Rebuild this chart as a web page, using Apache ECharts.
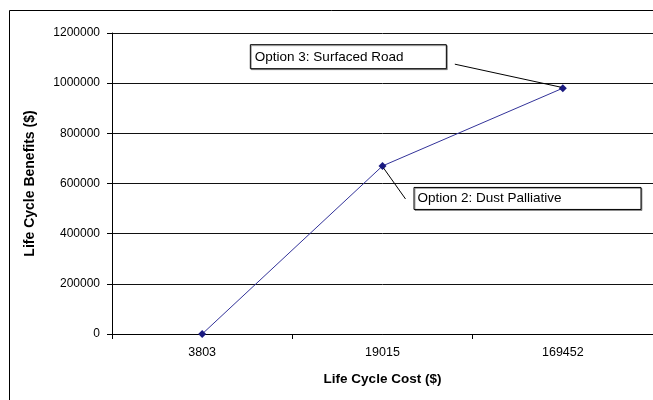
<!DOCTYPE html>
<html><head><meta charset="utf-8">
<script src="https://cdn.jsdelivr.net/npm/echarts@6/dist/echarts.min.js"></script>
<style>html,body{margin:0;padding:0;background:#fff}#c{width:653px;height:400px}</style>
</head><body><div id="c"></div>
<script>
const categories = ['3803', '19015', '169452'];
const benefits = [0, 670000, 980000];
const yTicks = [0, 200000, 400000, 600000, 800000, 1000000, 1200000];
const annotations = [
  { index: 2, text: 'Option 3: Surfaced Road' },
  { index: 1, text: 'Option 2: Dust Palliative' }
];
const font = '"Liberation Sans", Arial, sans-serif';
const chart = echarts.init(document.getElementById('c'), null, { renderer: 'canvas' });
chart.setOption({
  animation: false,
  backgroundColor: '#fff',
  grid: { left: 112, top: 33, width: 543, height: 301, containLabel: false },
  xAxis: {
    type: 'category', data: categories, boundaryGap: true,
    axisLine: { lineStyle: { color: '#000', width: 1 } },
    axisTick: { show: true, length: 5, lineStyle: { color: '#000' } },
    axisLabel: { color: '#000', fontFamily: font, fontSize: 12.5, margin: 12 },
    name: 'Life Cycle Cost ($)', nameLocation: 'middle', nameGap: 38,
    nameTextStyle: { color: '#000', fontFamily: font, fontSize: 13.5, fontWeight: 'bold' }
  },
  yAxis: {
    type: 'value', min: yTicks[0], max: yTicks[yTicks.length - 1], interval: 200000,
    axisLine: { show: true, lineStyle: { color: '#000', width: 1 } },
    axisTick: { show: true, length: 5, lineStyle: { color: '#000' } },
    axisLabel: { color: '#000', fontFamily: font, fontSize: 12, margin: 12, formatter: v => String(v) },
    splitLine: { show: true, lineStyle: { color: '#111', width: 1 } },
    name: 'Life Cycle Benefits ($)', nameLocation: 'middle', nameGap: 75, nameRotate: 90,
    nameTextStyle: { color: '#000', fontFamily: font, fontSize: 14, fontWeight: 'bold' }
  },
  series: [{
    type: 'line', data: benefits,
    symbol: 'diamond', symbolSize: 8,
    lineStyle: { color: '#333399', width: 1 },
    itemStyle: { color: '#1a1a80' }
  }]
});
function place() {
  const p3 = chart.convertToPixel({ seriesIndex: 0 }, [annotations[0].index, benefits[annotations[0].index]]);
  const p2 = chart.convertToPixel({ seriesIndex: 0 }, [annotations[1].index, benefits[annotations[1].index]]);
  const els = [
    { type: 'rect', shape: { x: 9.5, y: 10.5, width: 660, height: 400 }, style: { fill: 'none', stroke: '#000', lineWidth: 1 }, z: 10 },
    { type: 'rect', shape: { x: p3[0] - 312.5, y: p3[1] - 43.5, width: 196, height: 24 }, style: { fill: '#fff', stroke: '#000', lineWidth: 1, shadowColor: 'rgba(0,0,0,0.35)', shadowOffsetX: 1, shadowOffsetY: 1 }, z: 20 },
    { type: 'text', x: p3[0] - 308, y: p3[1] - 31, style: { text: annotations[0].text, fill: '#000', font: '13.5px ' + font, verticalAlign: 'middle' }, z: 21 },
    { type: 'line', shape: { x1: p3[0] - 108, y1: p3[1] - 24, x2: p3[0] - 2, y2: p3[1] - 1 }, style: { stroke: '#000', lineWidth: 1 }, z: 20 },
    { type: 'rect', shape: { x: p2[0] + 31.5, y: p2[1] + 21.5, width: 227, height: 22 }, style: { fill: '#fff', stroke: '#000', lineWidth: 1, shadowColor: 'rgba(0,0,0,0.35)', shadowOffsetX: 1, shadowOffsetY: 1 }, z: 20 },
    { type: 'text', x: p2[0] + 35, y: p2[1] + 32.5, style: { text: annotations[1].text, fill: '#000', font: '13.5px ' + font, verticalAlign: 'middle' }, z: 21 },
    { type: 'line', shape: { x1: p2[0] + 1, y1: p2[1] + 2, x2: p2[0] + 23, y2: p2[1] + 33 }, style: { stroke: '#000', lineWidth: 1 }, z: 20 }
  ];
  chart.setOption({ graphic: els });
}
place();
</script></body></html>
